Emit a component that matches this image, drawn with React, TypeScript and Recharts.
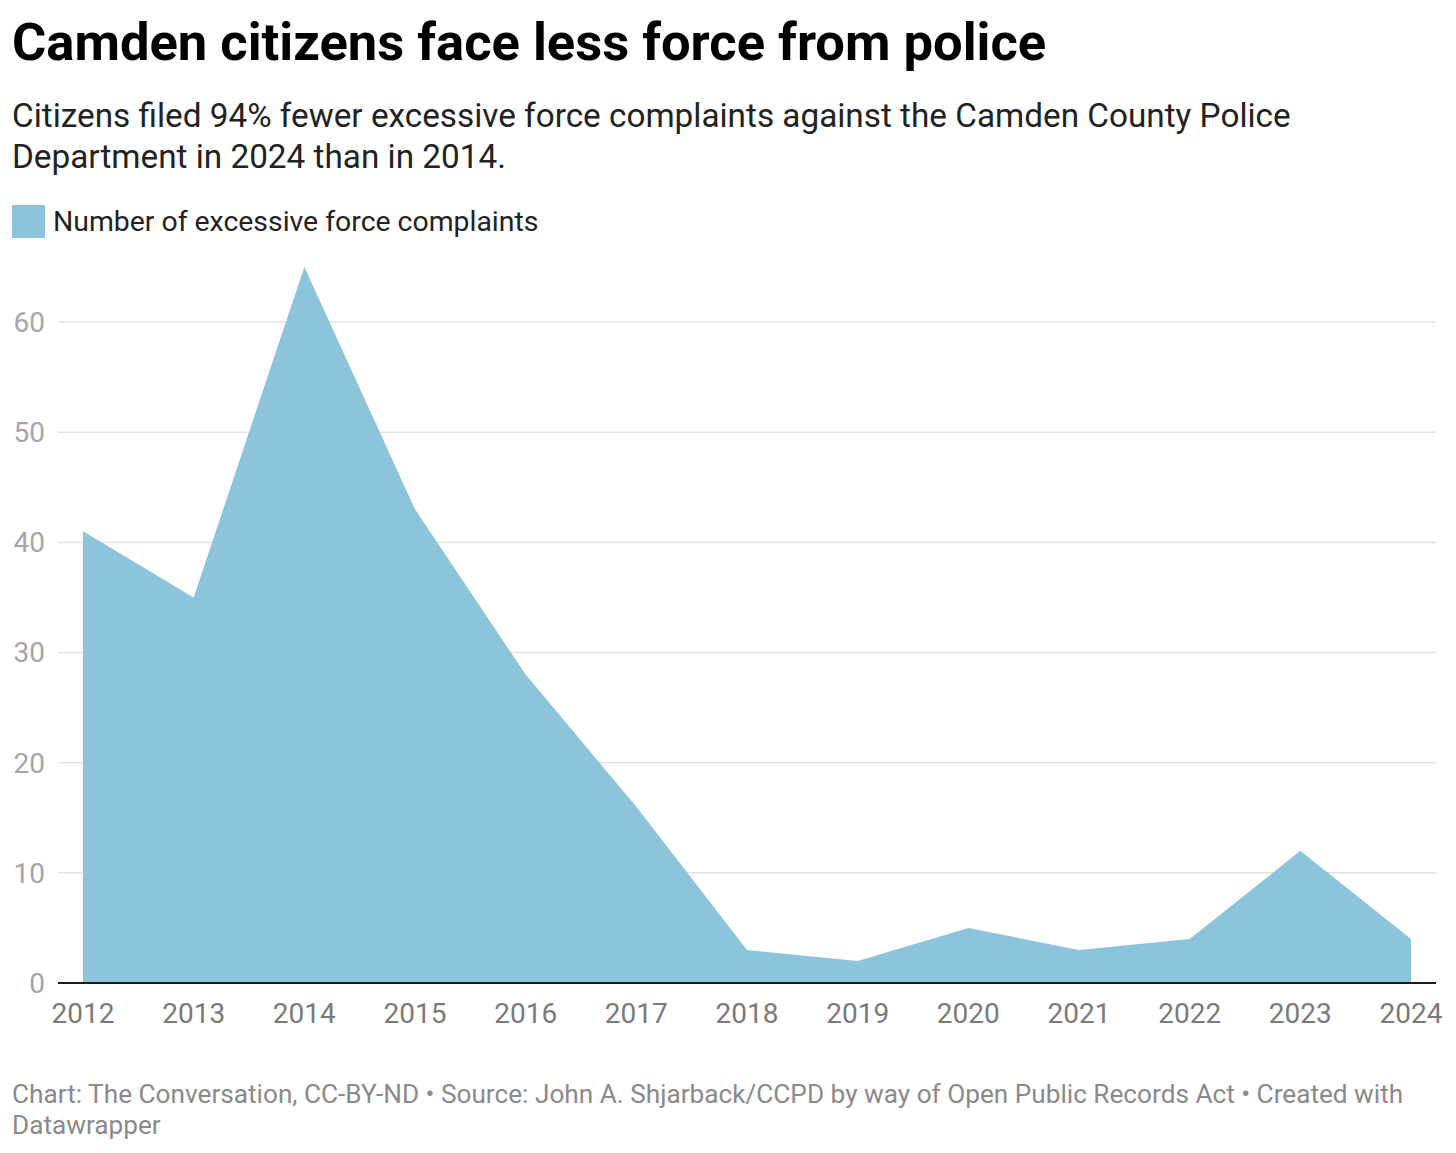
import { Area, AreaChart, CartesianGrid, XAxis, YAxis } from "recharts";

const YEARS = [
  "2012", "2013", "2014", "2015", "2016", "2017", "2018",
  "2019", "2020", "2021", "2022", "2023", "2024",
];
const COMPLAINTS = [41, 35, 65, 43, 28, 16, 3, 2, 5, 3, 4, 12, 4];
const Y_TICKS = [0, 10, 20, 30, 40, 50, 60];
const GRID_VALUES = [10, 20, 30, 40, 50, 60];

const FILL = "#8cc4db";
const FONT = "Roboto, 'Noto Sans', sans-serif";

export default function App() {
  const data = YEARS.map((year, i) => ({ year, complaints: COMPLAINTS[i] }));

  return (
    <div
      style={{
        position: "absolute",
        left: 0,
        top: 0,
        width: 1456,
        height: 1153,
        background: "#fff",
        fontFamily: FONT,
        overflow: "hidden",
      }}
    >
      <div
        style={{
          position: "absolute",
          left: 12,
          top: 16,
          fontSize: 52.5,
          lineHeight: "52px",
          fontWeight: 700,
          color: "#000",
          whiteSpace: "nowrap",
        }}
      >
        Camden citizens face less force from police
      </div>
      <div
        style={{
          position: "absolute",
          left: 12,
          top: 96,
          width: 1420,
          fontSize: 33.3,
          lineHeight: "40.5px",
          color: "#222",
          whiteSpace: "nowrap",
        }}
      >
        Citizens filed 94% fewer excessive force complaints against the Camden County Police
        <br />
        Department in 2024 than in 2014.
      </div>

      <div style={{ position: "absolute", left: 12, top: 205, width: 33, height: 33, background: FILL }} />
      <div
        style={{
          position: "absolute",
          left: 53,
          top: 205,
          fontSize: 28.4,
          lineHeight: "33px",
          color: "#222",
          whiteSpace: "nowrap",
        }}
      >
        Number of excessive force complaints
      </div>

      <div style={{ position: "absolute", left: 0, top: 0 }}>
        <AreaChart
          width={1456}
          height={1060}
          data={data}
          margin={{ top: 267, right: 20, bottom: 0, left: 0 }}
        >
          <CartesianGrid
            vertical={false}
            stroke="#e3e3e3"
            strokeWidth={1.5}
            horizontalValues={GRID_VALUES}
          />
          <YAxis
            domain={[0, 65]}
            ticks={Y_TICKS}
            width={58}
            axisLine={false}
            tickLine={false}
            tickSize={0}
            tickMargin={13}
            tick={{ fontSize: 28, fill: "#a6a6a6", fontFamily: FONT }}
          />
          <XAxis
            dataKey="year"
            height={77}
            padding={{ left: 25, right: 25 }}
            axisLine={{ stroke: "#1a1a1a", strokeWidth: 2 }}
            tickLine={false}
            tickSize={0}
            tickMargin={20}
            interval={0}
            tick={{ fontSize: 28, fill: "#7a7a7a", fontFamily: FONT }}
          />
          <Area
            type="linear"
            dataKey="complaints"
            stroke="none"
            fill={FILL}
            fillOpacity={1}
            isAnimationActive={false}
          />
        </AreaChart>
      </div>

      <div
        style={{
          position: "absolute",
          left: 12,
          top: 1079,
          width: 1440,
          fontSize: 26.2,
          lineHeight: "31px",
          color: "#8a8a8a",
          whiteSpace: "nowrap",
        }}
      >
        Chart: The Conversation, CC-BY-ND • Source: John A. Shjarback/CCPD by way of Open Public Records Act • Created with
        <br />
        Datawrapper
      </div>
    </div>
  );
}
